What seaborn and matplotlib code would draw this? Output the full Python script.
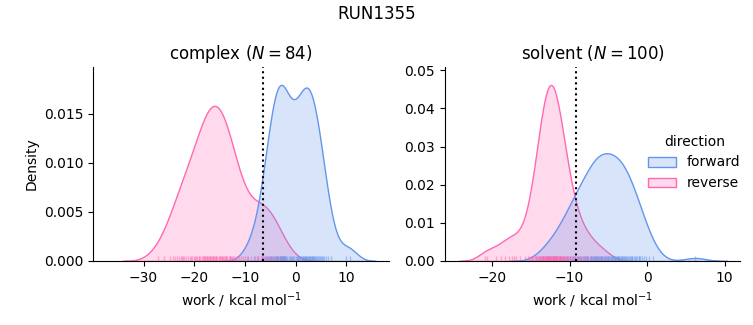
import matplotlib
matplotlib.use("Agg")
import matplotlib.pyplot as plt
import pandas as pd
import seaborn as sns

run_name = "RUN1355"
phases = ["complex", "solvent"]
directions = ["forward", "reverse"]

# nonequilibrium work values (kcal/mol) per phase and direction
complex_forward = [
    -9.3, -8.1, -7.4,
    -6.6, -6.1, -5.8, -5.6, -5.5, -5.3, -5.1, -4.9, -4.8, -4.7, -4.5, -4.3,
    -4.0, -3.9, -3.8, -3.7, -3.6, -3.5, -3.4, -3.1, -3.0, -2.9,
    -2.8, -2.7, -2.6, -2.5, -2.4, -2.3, -2.2, -2.1, -2.0, -1.9, -1.6, -1.3,
    -1.0, -0.8, -0.6, -0.4, -0.2, 0.0, 0.2, 0.4, 0.5, 0.6, 0.8,
    1.0, 1.2, 1.4, 1.5, 1.7, 1.8, 1.9, 2.0, 2.1, 2.2, 2.4,
    2.5, 2.7, 2.8, 2.9, 3.1, 3.2, 3.3, 3.5, 3.6, 3.7, 3.9,
    4.1, 4.3, 4.4, 4.6, 4.9, 5.0, 5.2, 5.4,
    5.6, 6.0, 6.5, 7.1, 10.0, 10.7,
]
complex_reverse = [
    -27.2, -25.9, -24.8, -24.1, -23.8, -23.3, -23.0, -22.7, -22.5, -22.2,
    -22.0, -21.6, -21.2, -20.8, -20.6, -20.4, -20.0, -19.9, -19.7, -19.4,
    -19.1, -19.0, -18.8, -18.5, -18.3, -18.1, -18.0, -17.8, -17.6, -17.5,
    -17.4, -17.2, -17.0, -16.9, -16.8, -16.6, -16.4, -16.3, -16.2, -16.0,
    -15.8, -15.7, -15.6, -15.4, -15.2, -15.1, -15.0, -14.8, -14.6, -14.5,
    -14.4, -14.2, -13.9, -13.8, -13.7, -13.5, -13.2, -13.0, -12.9, -12.7,
    -12.6, -12.4, -12.1, -11.8, -11.5, -11.2, -10.8, -10.4, -10.0, -9.6,
    -8.8, -8.0, -7.7, -7.4, -6.8, -6.5, -6.2, -5.8, -5.4,
    -5.0, -4.5, -3.9, -3.2, -2.4,
]
solvent_forward = [
    -13.6, -12.9, -12.4, -12.0, -11.6, -11.3, -11.0, -10.7, -10.4, -10.2,
    -10.0, -9.9, -9.7, -9.6, -9.5, -9.3, -9.1, -8.9, -8.8, -8.7,
    -8.6, -8.5, -8.3, -8.1, -8.0, -7.9, -7.8, -7.7, -7.6, -7.4,
    -7.3, -7.2, -7.1, -7.0, -6.9, -6.8, -6.7, -6.6, -6.55, -6.5,
    -6.4, -6.3, -6.2, -6.1, -6.0, -5.95, -5.9, -5.8, -5.7, -5.6,
    -5.5, -5.4, -5.3, -5.2, -5.1, -5.0, -4.9, -4.8, -4.7, -4.6,
    -4.5, -4.4, -4.3, -4.2, -4.1, -4.0, -3.9, -3.8, -3.75, -3.7,
    -3.6, -3.5, -3.4, -3.3, -3.2, -3.1, -3.0, -2.9, -2.8, -2.7,
    -2.6, -2.5, -2.4, -2.2, -2.1, -2.0, -1.9, -1.7, -1.6, -1.5,
    -1.3, -1.1, -1.0, -0.9, -0.7, -0.4, -0.1, 0.3, 0.8, 6.2,
]
solvent_reverse = [
    -20.9, -20.6, -19.5, -18.8, -18.3, -17.8, -17.5, -17.2, -16.9, -16.4,
    -15.8, -15.4, -15.2, -15.0, -14.8, -14.7, -14.5, -14.4, -14.3, -14.2,
    -14.1, -14.0, -13.9, -13.8, -13.8, -13.7, -13.6, -13.5, -13.5, -13.4,
    -13.4, -13.3, -13.3, -13.2, -13.1, -13.1, -13.0, -13.0, -12.9, -12.9,
    -12.9, -12.8, -12.8, -12.7, -12.7, -12.6, -12.6, -12.6, -12.5, -12.5,
    -12.4, -12.4, -12.3, -12.2, -12.2, -12.1, -12.1, -12.0, -12.0, -12.0,
    -11.9, -11.9, -11.8, -11.8, -11.7, -11.7, -11.6, -11.6, -11.5, -11.4,
    -11.4, -11.3, -11.2, -11.1, -11.1, -11.0, -10.9, -10.8, -10.7, -10.6,
    -10.6, -10.5, -10.4, -10.3, -10.2, -10.0, -9.9, -9.7, -9.5, -9.3,
    -9.1, -8.9, -8.6, -8.3, -8.0, -7.6, -7.2, -6.7, -6.0, -5.2,
]

# free energy estimate per phase (kcal/mol), drawn as a dotted marker
free_energy = [-6.4, -9.14]
x_limits = [(-39.9, 18.4), (-26.1, 12.0)]

works = {
    ("complex", "forward"): complex_forward,
    ("complex", "reverse"): complex_reverse,
    ("solvent", "forward"): solvent_forward,
    ("solvent", "reverse"): solvent_reverse,
}
frames = [
    pd.DataFrame({"work": w, "phase": p, "direction": d})
    for (p, d), w in works.items()
]
df = pd.concat(frames, ignore_index=True)

palette = {"forward": "cornflowerblue", "reverse": "hotpink"}

g = sns.displot(
    data=df, x="work", hue="direction", col="phase", col_order=phases,
    hue_order=directions, kind="kde", fill=True, rug=True, common_norm=True,
    palette=palette, rug_kws=dict(alpha=0.5),
    facet_kws=dict(sharex=False, sharey=False),
)
fig = g.figure
fig.set_size_inches(7.53, 3.25)
fig.subplots_adjust(left=0.124, right=0.983, bottom=0.197, top=0.793, wspace=0.19)

for ax, phase, dg, xl in zip(g.axes.flat, phases, free_energy, x_limits):
    n = len(works[(phase, "forward")])
    ax.set_title(f"{phase} ($N = {n}$)", fontsize=12)
    ax.axvline(dg, color="black", linestyle=":", linewidth=1.5)
    ax.set_xlim(*xl)
    ax.set_xlabel("work / kcal mol$^{-1}$")

g.axes.flat[0].set_ylabel("Density")
g.axes.flat[1].set_ylabel("")

sns.move_legend(g, "center left", bbox_to_anchor=(0.844, 0.5), frameon=False)
fig.suptitle(run_name, fontsize=12, y=0.985)

fig.savefig("out.png", dpi=100)
